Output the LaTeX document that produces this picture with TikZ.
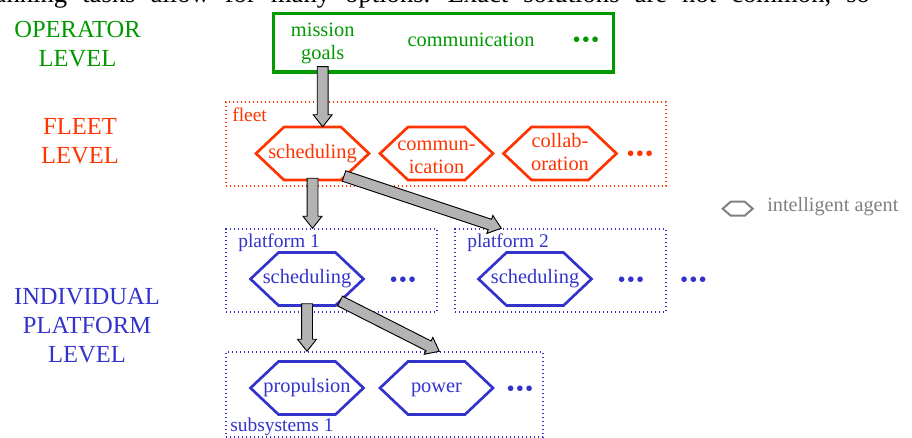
\documentclass[tikz,border=0pt]{standalone}
\usepackage{fontspec}
\setmainfont{Liberation Serif}
\usetikzlibrary{calc}
\definecolor{opgreen}{RGB}{0,153,0}
\definecolor{fleetred}{RGB}{255,51,0}
\definecolor{platblue}{RGB}{51,51,204}
\definecolor{legendgrey}{RGB}{128,128,128}
\definecolor{arrowgrey}{RGB}{179,179,179}
% hexagon agent: [node options]{name}{centre}{colour}{text}
\newcommand\hexagent[5][]{%
  \draw[hexline, draw=#4] ($(#3)+(-56.5,0)$) -- ++(28,-26.5) -- ++(57,0) -- ++(28,26.5) -- ++(-28,26.5) -- ++(-57,0) -- cycle;
  \node[hextext, text=#4, #1] (#2) at (#3) {#5};}
% fat grey arrow from coordinate #1 to coordinate #2
\newcommand\fatarrow[2]{%
  \coordinate (fa-c) at ($(#2)!9pt!(#1)$);
  \draw[fatarrowstyle] ($(#1)!4.1pt!90:(#2)$) -- ($(fa-c)!4.1pt!-90:(#1)$) -- ($(fa-c)!7.1pt!-90:(#1)$) -- (#2) -- ($(fa-c)!7.1pt!90:(#1)$) -- ($(fa-c)!4.1pt!90:(#1)$) -- ($(#1)!4.1pt!-90:(#2)$) -- cycle;}
\newcommand\threedots{\textbullet\hspace{0.8pt}\textbullet\hspace{0.8pt}\textbullet}
\begin{document}
\begin{tikzpicture}[x=0.75pt,y=-0.75pt,
  hexline/.style={line width=2pt, line join=miter},
  hextext/.style={inner sep=0pt, minimum width=84.75pt, minimum height=39.75pt, align=center,
     font=\fontsize{15.3}{17.25}\selectfont, text height=10.5pt, text depth=3.3pt},
  optext/.style={inner sep=0pt, align=center, text=opgreen, font=\fontsize{15.3}{17.25}\selectfont},
  levellabel/.style={inner sep=0pt, align=center, font=\fontsize{18.4}{21.75}\selectfont},
  boxlabel/.style={inner sep=0pt, anchor=base west, font=\fontsize{14.6}{17}\selectfont},
  dottedbox/.style={inner sep=0pt, line width=1.1pt, dash pattern=on 1.1pt off 1.9pt},
  dotsstyle/.style={inner sep=0pt, anchor=base, font=\fontsize{17.5}{20}\selectfont},
  fatarrowstyle/.style={fill=arrowgrey, draw=black, line width=0.7pt, line join=miter},
  legendline/.style={draw=legendgrey, line width=1.5pt, line join=miter}]
\useasboundingbox (0,0) rectangle (912,438);

% clipped line of text at the top edge
\begin{scope}
  \clip (0,0) rectangle (912,438);
  \node[anchor=base west, inner sep=0pt, font=\fontsize{20}{24}\selectfont] (toptext) at (-27.8,3)
    {\spaceskip=11.25pt plus 1pt Planning tasks allow for many options. Exact solutions are not common, so};
\end{scope}

% level labels
\node[levellabel, text=opgreen] (oplevel) at (77.5,44) {OPERATOR\\LEVEL};
\node[levellabel, text=fleetred] (fleetlevel) at (80,141) {FLEET\\LEVEL};
\node[levellabel, text=platblue] (platlevel) at (87,325.5) {INDIVIDUAL\\PLATFORM\\LEVEL};

% operator level
\node[draw=opgreen, line width=2.4pt, inner sep=0pt, minimum width=255pt, minimum height=43.875pt] (op) at (443.5,42.75) {};
\node[optext, text height=28.2pt, text depth=3.3pt] (goals) at (322.7,42.7) {mission\\goals};
\node[optext, anchor=base] (opcomm) at (471,46.7) {communication};
\node[dotsstyle, text=opgreen] (opdots) at (586,47.5) {\threedots};

% fleet level
\node[dottedbox, draw=fleetred, minimum width=330pt, minimum height=63pt] (fleet) at (446,144) {};
\node[boxlabel, text=fleetred] (fleetlab) at (232,121.7) {fleet};
\hexagent{fsched}{312.5,153.5}{fleetred}{scheduling}
\hexagent[text height=34pt]{fcomm}{436.5,153.5}{fleetred}{commun-\\ication}
\hexagent[text height=29.55pt]{fcollab}{560,153.5}{fleetred}{collab-\\oration}
\node[dotsstyle, text=fleetred] (fdots) at (640,162) {\threedots};

% platform level
\node[dottedbox, draw=platblue, minimum width=158.25pt, minimum height=62.25pt] (p1) at (331.5,270.5) {};
\node[boxlabel, text=platblue] (p1lab) at (238,247) {platform 1};
\hexagent{p1sched}{307,279}{platblue}{scheduling}
\node[dotsstyle, text=platblue] (p1dots) at (403,287) {\threedots};

\node[dottedbox, draw=platblue, minimum width=158.25pt, minimum height=62.25pt] (p2) at (560.5,270.5) {};
\node[boxlabel, text=platblue] (p2lab) at (467,247) {platform 2};
\hexagent{p2sched}{535,279}{platblue}{scheduling}
\node[dotsstyle, text=platblue] (p2dots) at (631,287) {\threedots};
\node[dotsstyle, text=platblue] (pdots) at (693.5,287) {\threedots};

% subsystems
\node[dottedbox, draw=platblue, minimum width=237.75pt, minimum height=63.75pt] (s1) at (384.5,394.5) {};
\node[boxlabel, text=platblue] (s1lab) at (230,431) {subsystems 1};
\hexagent{sprop}{307,388}{platblue}{propulsion}
\hexagent{spower}{436.5,388}{platblue}{power}
\node[dotsstyle, text=platblue] (sdots) at (520,396) {\threedots};

% legend
\node[inner sep=0pt, minimum width=22.5pt, minimum height=10.5pt] (leghex) at (737.7,208.7) {};
\draw[legendline] ($(leghex.center)+(-15,0)$) -- ++(8,-7) -- ++(14,0) -- ++(8,7) -- ++(-8,7) -- ++(-14,0) -- cycle;
\node[anchor=base west, inner sep=0pt, text=legendgrey, font=\fontsize{15.2}{18}\selectfont] (legtext) at (767,211.7) {intelligent agent};

% arrows
\coordinate (a1s) at ([yshift=-2pt]goals.south);
\coordinate (a1e) at (a1s |- fsched.north);
\fatarrow{a1s}{a1e}
\coordinate (a2s) at ([yshift=1.5pt]fsched.south);
\coordinate (a2e) at (a2s |- p1.north);
\fatarrow{a2s}{a2e}
\coordinate (a3s) at ($(fsched.center)+(31.5,22.5)$);
\coordinate (a3e) at ([xshift=35.25pt]p2.north west);
\fatarrow{a3s}{a3e}
\coordinate (a4s) at ([yshift=1.5pt]p1sched.south);
\coordinate (a4e) at (a4s |- s1.north);
\fatarrow{a4s}{a4e}
\coordinate (a5s) at ($(p1sched.center)+(33,22)$);
\coordinate (a5e) at ([xshift=160.5pt]s1.north west);
\fatarrow{a5s}{a5e}
\end{tikzpicture}
\end{document}
